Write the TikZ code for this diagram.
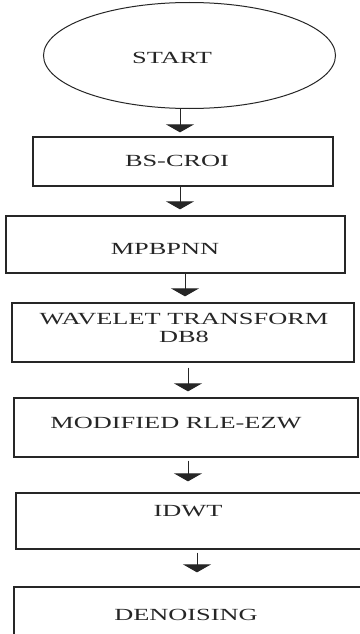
\documentclass[tikz,border=0pt]{standalone}
\usepackage{fontspec}
\setmainfont{Liberation Serif}[FakeStretch=1.55]
\usetikzlibrary{arrows.meta,shapes.geometric}
\begin{document}
\begin{tikzpicture}[x=1pt,y=-1pt,
  boxstyle/.style={draw=black!85, line width=1.3pt, rectangle, inner sep=0pt},
  lbl/.style={font=\fontsize{17}{18}\selectfont, text=black!85, inner sep=0pt, align=center},
  arr/.style={draw=black!85, line width=1pt, -{Triangle[width=28pt,length=8pt]}}]
\useasboundingbox (0,0) rectangle (359,634);
\fill[white] (0,0) rectangle (359,634);
% shapes
\node[draw=black!85, line width=1pt, ellipse, minimum width=292pt, minimum height=106pt, inner sep=0pt] (start) at (189.5,55.5) {};
\node[boxstyle, minimum width=300pt, minimum height=49pt] (b1) at (183,161.5) {};
\node[boxstyle, minimum width=339pt, minimum height=57pt] (b2) at (175.5,244.5) {};
\node[boxstyle, minimum width=342pt, minimum height=59pt] (b3) at (183,332.5) {};
\node[boxstyle, minimum width=344pt, minimum height=59pt] (b4) at (186,427.5) {};
\node[boxstyle, minimum width=350pt, minimum height=56pt] (b5) at (191,521) {};
\node[boxstyle, minimum width=352pt, minimum height=60pt] (b6) at (190,617) {};
% labels
\node[lbl] (t0) at (172,58) {START};
\node[lbl] (t1) at (177,161) {BS-CROI};
\node[lbl] (t2) at (165,248.5) {MPBPNN};
\node[lbl] (t3) at (184,328) {WAVELET TRANSFORM\\DB8};
\node[lbl] (t4) at (176,423) {MODIFIED RLE-EZW};
\node[lbl] (t5) at (188,511) {IDWT};
\node[lbl] (t6) at (186,615) {DENOISING};
% connectors
\draw[arr, shorten >=4pt] ([xshift=-9.5pt]start.south) -- ([xshift=-3pt]b1.north);
\draw[arr, shorten >=6pt] ([xshift=-3pt]b1.south) -- ([xshift=4.5pt]b2.north);
\draw[arr, shorten >=6pt] ([xshift=9.5pt]b2.south) -- ([xshift=2pt]b3.north);
\draw[arr, shorten <=5pt, shorten >=6pt] ([xshift=5pt]b3.south) -- ([xshift=2pt]b4.north);
\draw[arr, shorten <=3pt, shorten >=11pt] ([xshift=2pt]b4.south) -- ([xshift=-3pt]b5.north);
\draw[arr, shorten <=3pt, shorten >=14pt] ([xshift=6pt]b5.south) -- ([xshift=7pt]b6.north);
\end{tikzpicture}
\end{document}
